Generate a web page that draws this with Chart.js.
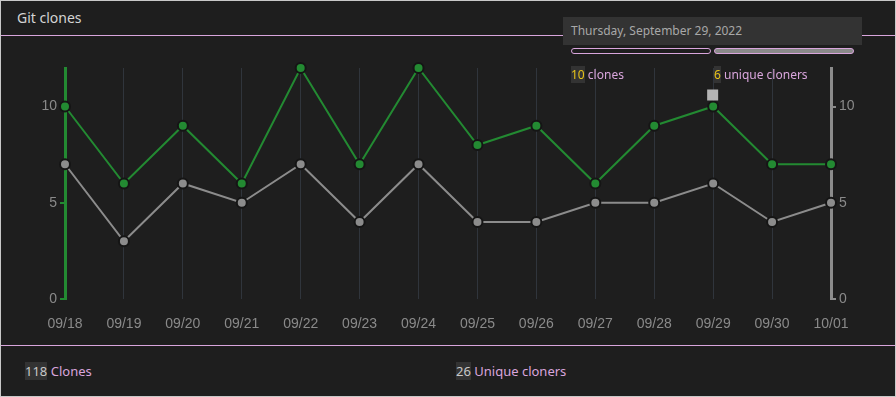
<!DOCTYPE html>
<html>
<head>
<meta charset="utf-8">
<script src="https://cdn.jsdelivr.net/npm/chart.js@4.4.0/dist/chart.umd.min.js"></script>
<style>
  html, body { margin: 0; padding: 0; }
  body { width: 896px; height: 397px; background: #1e1e1e; font-family: "Noto Sans", "Open Sans", sans-serif; overflow: hidden; }
  .frame { position: absolute; left: 0; top: 0; width: 894px; height: 395px; border: 1px solid #c8c8c8; }
  .title { position: absolute; left: 17px; top: 8px; color: #d4d4d4; font-size: 14px; }
  .rule { position: absolute; left: 1px; right: 1px; height: 1px; background: #d9a5dc; }
  .tip { position: absolute; left: 563px; top: 17px; width: 299px; height: 28px; background: #333333; color: #a8a8a8; font-size: 12px; line-height: 28px; padding-left: 8px; box-sizing: border-box; }
  .bar { position: absolute; top: 48px; height: 4px; border: 1px solid #d9a5dc; border-radius: 3px; }
  .stat { position: absolute; font-size: 12px; color: #d9a5dc; }
  .num { background: #333333; color: #e8c31a; }
  .foot .num { color: #c8c8c8; }
  .foot { font-size: 13px; }
  #wrap { position: absolute; left: 0; top: 36px; width: 896px; height: 308px; }
</style>
</head>
<body>
<div class="frame"></div>
<div class="title">Git clones</div>
<div class="rule" style="top:35px"></div>
<div class="rule" style="top:345px"></div>
<div id="wrap"><canvas id="chart"></canvas></div>
<div class="tip" id="tipDate"></div>
<div class="bar" style="left:571px;width:138px;background:#1e1e1e"></div>
<div class="bar" style="left:714px;width:138px;background:#8a8a8a"></div>
<div class="stat" style="left:571px;top:66px"><span class="num" id="tipClones"></span> clones</div>
<div class="stat" style="left:714px;top:66px"><span class="num" id="tipUnique"></span> unique cloners</div>
<div class="stat foot" style="left:25px;top:362px"><span class="num" id="totClones"></span> Clones</div>
<div class="stat foot" style="left:456px;top:362px"><span class="num" id="totUnique"></span> Unique cloners</div>

<script>
const days = ['09/18', '09/19', '09/20', '09/21', '09/22', '09/23', '09/24', '09/25', '09/26', '09/27', '09/28', '09/29', '09/30', '10/01'];
const clones = [10, 6, 9, 6, 12, 7, 12, 8, 9, 6, 9, 10, 7, 7];
const uniques = [7, 3, 6, 5, 7, 4, 7, 4, 4, 5, 5, 6, 4, 5];
const totalClones = 118;
const totalUniques = 26;
const hoverIndex = 11;
const hoverDate = 'Thursday, September 29, 2022';

const green = '#238a32';
const grey = '#8c8c8c';

document.getElementById('tipDate').textContent = hoverDate;
document.getElementById('tipClones').textContent = clones[hoverIndex];
document.getElementById('tipUnique').textContent = uniques[hoverIndex];
document.getElementById('totClones').textContent = totalClones;
document.getElementById('totUnique').textContent = totalUniques;

// small grey marker above the hovered point
const hoverMarker = {
  id: 'hoverMarker',
  afterDatasetsDraw(chart) {
    const x = chart.scales.x.getPixelForValue(hoverIndex);
    const y = chart.scales.y.getPixelForValue(clones[hoverIndex]);
    const ctx = chart.ctx;
    ctx.save();
    ctx.fillStyle = '#b4b4b4';
    ctx.fillRect(x - 6, y - 17, 11, 11);
    ctx.restore();
  }
};

const tickFont = { family: 'Liberation Sans, Arial, sans-serif', size: 14 };

new Chart(document.getElementById('chart'), {
  type: 'line',
  data: {
    labels: days,
    datasets: [
      {
        label: 'Clones',
        data: clones,
        yAxisID: 'y',
        borderColor: green,
        backgroundColor: green,
        borderWidth: 2,
        pointRadius: 5,
        pointBorderWidth: 2,
        pointBorderColor: '#151515',
        pointBackgroundColor: green,
        tension: 0,
        clip: false
      },
      {
        label: 'Unique cloners',
        data: uniques,
        yAxisID: 'y1',
        borderColor: grey,
        backgroundColor: grey,
        borderWidth: 2,
        pointRadius: 5,
        pointBorderWidth: 2,
        pointBorderColor: '#151515',
        pointBackgroundColor: grey,
        tension: 0,
        clip: false
      }
    ]
  },
  options: {
    responsive: true,
    maintainAspectRatio: false,
    animation: false,
    layout: { padding: { top: 32, left: 0, right: 0, bottom: 0 } },
    plugins: { legend: { display: false }, tooltip: { enabled: false } },
    scales: {
      x: {
        offset: false,
        grid: { color: '#30353c', drawTicks: false, lineWidth: 1 },
        border: { display: false },
        ticks: { color: '#8a8a8a', font: tickFont, padding: 17, maxRotation: 0 },
        afterFit: s => { s.height = 45; }
      },
      y: {
        position: 'left',
        min: 0, max: 12,
        ticks: { stepSize: 5, color: '#8a8a8a', font: tickFont, padding: 3,
          callback: v => (v % 5 === 0 ? v : null) },
        grid: { drawOnChartArea: false, color: green, tickLength: 5, lineWidth: 2 },
        border: { color: green, width: 3 },
        afterFit: s => { s.width = 65; }
      },
      y1: {
        position: 'right',
        min: 0, max: 12,
        ticks: { stepSize: 5, color: '#8a8a8a', font: tickFont, padding: 3,
          callback: v => (v % 5 === 0 ? v : null) },
        grid: { drawOnChartArea: false, color: grey, tickLength: 5, lineWidth: 2 },
        border: { color: grey, width: 3 },
        afterFit: s => { s.width = 65; }
      }
    }
  },
  plugins: [hoverMarker]
});
</script>
</body>
</html>
